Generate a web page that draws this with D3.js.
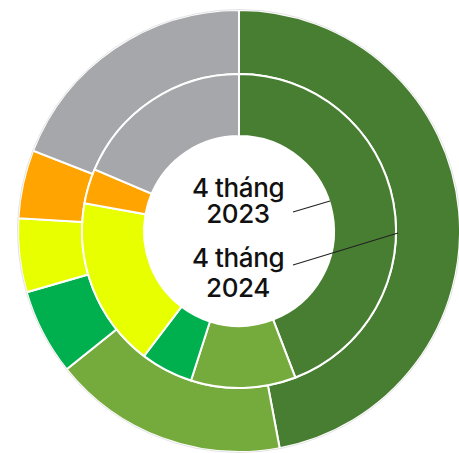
<!DOCTYPE html>
<html><head><meta charset="utf-8">
<script src="https://cdn.jsdelivr.net/npm/d3@7"></script>
<style>
html,body{margin:0;padding:0;background:#fff;}
svg{display:block;}
</style></head>
<body>
<svg id="chart" width="459" height="453"></svg>
<script>
const categories = ["Nhóm 1", "Nhóm 2", "Nhóm 3", "Nhóm 4", "Nhóm 5", "Nhóm 6"];
const colors = ["#487e31", "#75aa3c", "#00b04f", "#e8ff00", "#ffa400", "#a6a7ab"];
const values2023 = [44.2, 10.8, 5.4, 17.5, 3.6, 18.6];
const values2024 = [47.1, 17.2, 6.3, 5.4, 5.0, 19.1];
const centerLabels = [["4 tháng", "2023"], ["4 tháng", "2024"]];

const svg = d3.select("#chart");
const cx = 239, cy = 231;
const rHole = 95, rMid = 157, rOuter = 221;
const g = svg.append("g").attr("transform", `translate(${cx},${cy})`);

const pie = d3.pie().sort(null).value(d => d.v);
const color = d3.scaleOrdinal().domain(categories).range(colors);

function ring(values, r0, r1) {
  const data = values.map((v, i) => ({cat: categories[i], v}));
  const arc = d3.arc().innerRadius(r0).outerRadius(r1);
  g.append("g").selectAll("path").data(pie(data)).join("path")
    .attr("d", arc)
    .attr("fill", d => color(d.data.cat))
    .attr("stroke", "#fff")
    .attr("stroke-width", 2);
}
ring(values2024, rMid, rOuter);
ring(values2023, rHole, rMid);

g.append("circle").attr("r", rOuter + 0.5).attr("fill", "none")
  .attr("stroke", "#e4e4e4").attr("stroke-width", 1);

// leader lines
const lines = [
  {x1: 54, y1: -19, x2: 91, y2: -30},
  {x1: 54, y1: 34, x2: 159, y2: 2}
];
g.selectAll("line.lead").data(lines).join("line")
  .attr("x1", d => d.x1).attr("y1", d => d.y1)
  .attr("x2", d => d.x2).attr("y2", d => d.y2)
  .attr("stroke", "#222").attr("stroke-width", 1.1);

// center labels (one text element per label, two lines)
const firstBaselines = [-34, 36];
centerLabels.forEach((lab, i) => {
  const t = g.append("text")
    .attr("text-anchor", "middle")
    .attr("font-family", "Inter, 'Noto Sans', sans-serif")
    .attr("font-size", 26)
    .attr("font-weight", 500)
    .attr("letter-spacing", -0.4)
    .attr("fill", "#111");
  lab.forEach((line, j) => {
    t.append("tspan")
      .attr("x", -1)
      .attr("y", firstBaselines[i] + j * (i === 0 ? 26 : 30))
      .text(line);
  });
});
</script>
</body></html>
